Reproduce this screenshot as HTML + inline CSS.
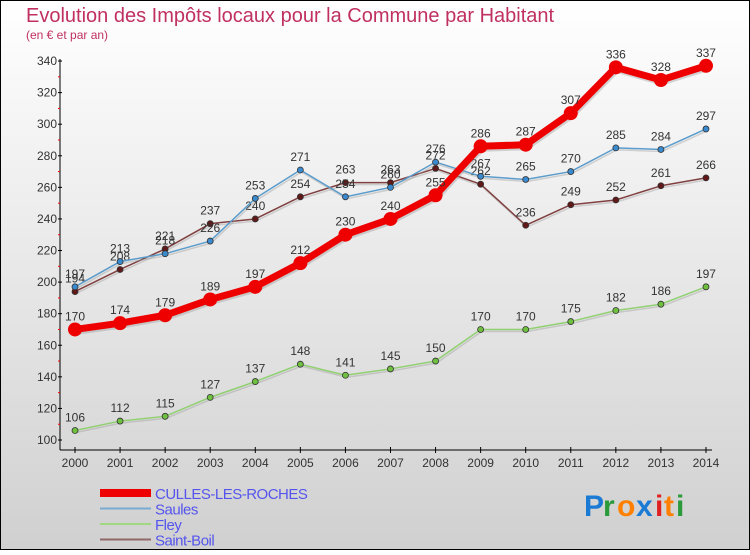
<!DOCTYPE html>
<html><head><meta charset="utf-8"><style>
body{margin:0}
#c{width:750px;height:550px;position:relative;font-family:"Liberation Sans",sans-serif}
</style></head><body>
<div id="c">
<svg id="s" width="750" height="550" xmlns="http://www.w3.org/2000/svg">
<defs><linearGradient id="bg" x1="0" y1="0" x2="0" y2="1"><stop offset="0" stop-color="#ffffff"/><stop offset="1" stop-color="#d0d0d0"/></linearGradient></defs>
<rect x="0.5" y="0.5" width="749" height="549" fill="url(#bg)" stroke="#000"/>
<text x="26" y="22" font-size="20" fill="#c03060">Evolution des Impôts locaux pour la Commune par Habitant</text>
<text x="26" y="39" font-size="12" fill="#c03060">(en € et par an)</text>
<g id="axes"></g><g id="series"></g><g id="legend"></g>
<g font-size="30" font-weight="bold">
<text x="584" y="516" fill="#1a7ad4">P</text><text x="603" y="516" fill="#2a9a3a">r</text><text x="617" y="516" fill="#ff8000">o</text><text x="636" y="516" fill="#1a7ad4">x</text><text x="655" y="516" fill="#e02020">i</text><text x="664" y="516" fill="#ff8000">t</text><text x="676" y="516" fill="#2a9a3a">i</text>
</g>
</svg></div>
<script>
const years=[2000,2001,2002,2003,2004,2005,2006,2007,2008,2009,2010,2011,2012,2013,2014];
const culles=[170,174,179,189,197,212,230,240,255,286,287,307,336,328,337];
const saules=[197,213,218,226,253,271,254,260,276,267,265,270,285,284,297];
const fley=[106,112,115,127,137,148,141,145,150,170,170,175,182,186,197];
const boil=[194,208,221,237,240,254,263,263,272,262,236,249,252,261,266];
const yTicks=[100,120,140,160,180,200,220,240,260,280,300,320,340];
const NS="http://www.w3.org/2000/svg";
const X=i=>75+i*45.07, Y=v=>440-(v-100)*1.579;
function mk(p,t,a){const e=document.createElementNS(NS,t);for(const k in a)e.setAttribute(k,a[k]);p.appendChild(e);return e;}
const ax=document.getElementById('axes');
let l=mk(ax,'line',{x1:60,y1:Y(340)-2,x2:60,y2:450,stroke:'#000'});

l=mk(ax,'line',{x1:60,y1:450,x2:712,y2:450,stroke:'#000'});

yTicks.forEach((v,i)=>{
  mk(ax,'line',{x1:58,y1:Y(v),x2:62,y2:Y(v),stroke:'#000'});
  if(i<yTicks.length-1)mk(ax,'line',{x1:58,y1:Y(v+10),x2:60,y2:Y(v+10),stroke:'#f00'});
  const t=mk(ax,'text',{x:57,y:Y(v)+4,'font-size':12,fill:'#333','text-anchor':'end'});t.textContent=v;
  
});
years.forEach((y,i)=>{
  mk(ax,'line',{x1:X(i),y1:447,x2:X(i),y2:453,stroke:'#000'});
  const t=mk(ax,'text',{x:X(i),y:467,'font-size':12,fill:'#333','text-anchor':'middle'});t.textContent=y;
  
});
const se=document.getElementById('series');
function draw(vals,name,col,dot,w,r){
  const g=mk(se,'g',{});
  const pts=vals.map((v,i)=>X(i)+','+Y(v)).join(' ');
  mk(g,'polyline',{points:pts,fill:'none',stroke:'#999','stroke-opacity':0.4,'stroke-width':w,transform:'translate(1,2)'});
  mk(g,'polyline',{points:pts,fill:'none',stroke:col,'stroke-width':w,'stroke-linejoin':'round'});
  vals.forEach((v,i)=>{
    const c=mk(g,'circle',{cx:X(i),cy:Y(v),r:r,fill:dot,stroke:'#333','stroke-width':r>5?0:0.8});
    
    const t=mk(g,'text',{x:X(i),y:Y(v)-9,'font-size':12,fill:'#333','text-anchor':'middle'});t.textContent=v;
    
  });
}
draw(boil,'saint-boil','#804040','#601818',1.5,3);
draw(saules,'saules','#5a9ccc','#3a8ad0',1.5,3);
draw(fley,'fley','#90d070','#70c040',1.5,3);
draw(culles,'culles','#ee0000','#ee0000',7,7);
const lg=document.getElementById('legend');
const leg=[['CULLES-LES-ROCHES','#ee0000',8],['Saules','#7aaad0',2],['Fley','#a0d880',2],['Saint-Boil','#906868',2]];
leg.forEach((d,i)=>{
  const y=493+i*15.5;
  const g=mk(lg,'g',{});
  mk(g,'line',{x1:100,y1:y,x2:151,y2:y,stroke:d[1],'stroke-width':d[2]});
  const t=mk(g,'text',{x:155,y:y+6,'font-size':15,fill:'#5555ee','letter-spacing':'-0.5'});t.textContent=d[0];
});
</script>
</body></html>
